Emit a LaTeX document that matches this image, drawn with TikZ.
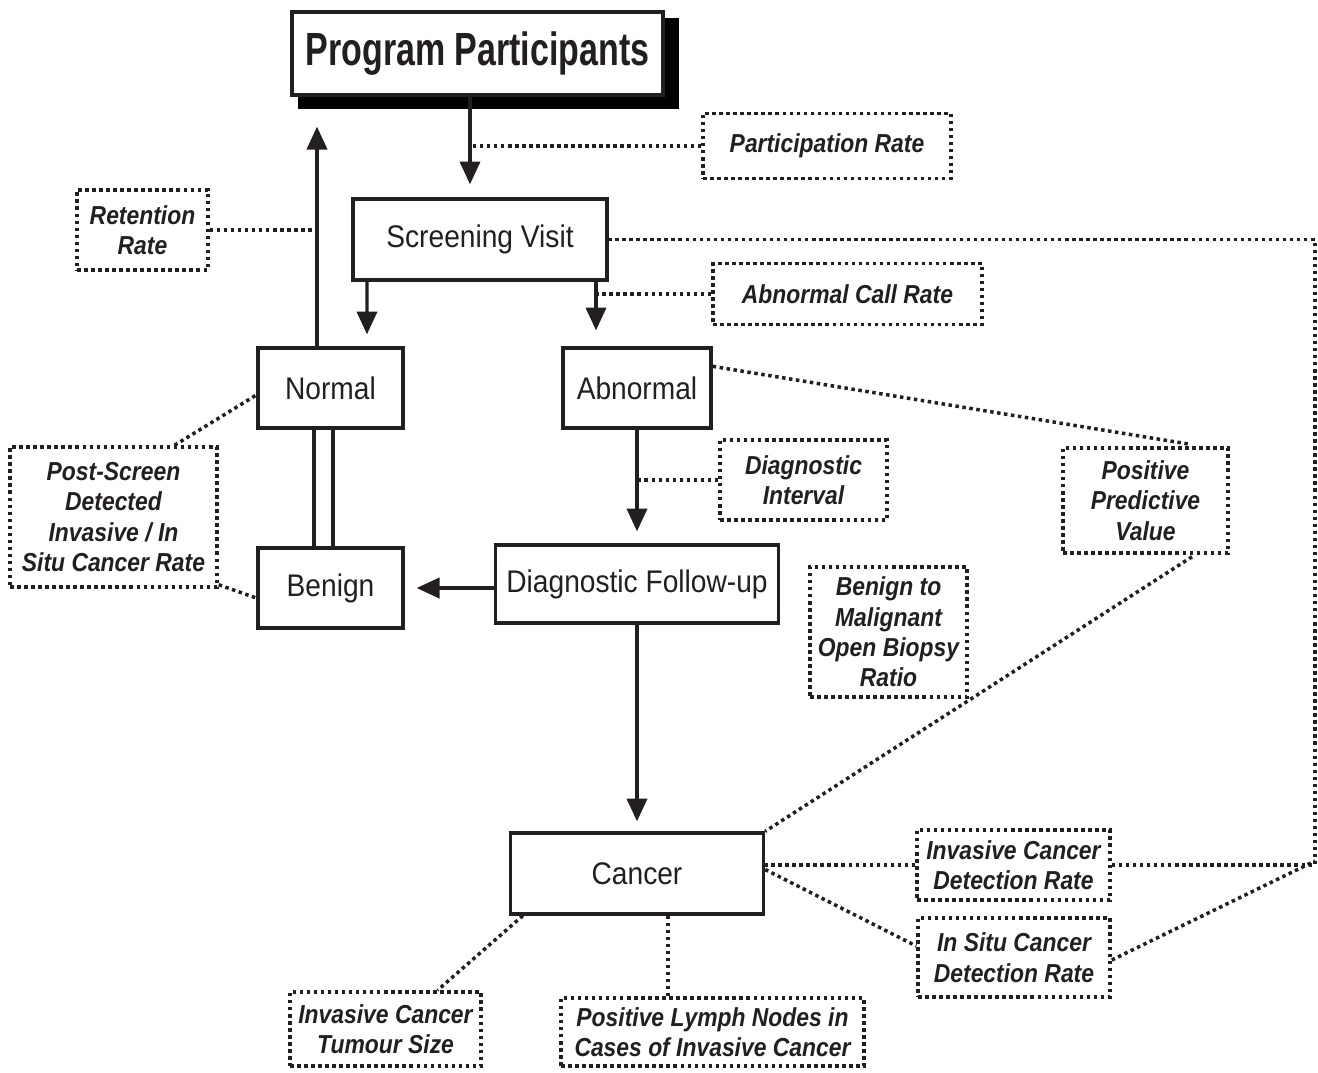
\documentclass[tikz,border=0pt]{standalone}
\usepackage{fontspec}
\setmainfont{Liberation Sans}
\newfontfamily\ttlfont[FakeStretch=0.73]{Liberation Sans}
\newfontfamily\labfont[FakeStretch=0.88]{Liberation Sans}
\newfontfamily\boxfont[FakeStretch=0.9]{Liberation Sans}
\usetikzlibrary{arrows.meta,calc,backgrounds}
\definecolor{ink}{RGB}{35,31,32}
\begin{document}
\begin{tikzpicture}[x=0.02cm,y=-0.02cm,color=ink,
  solidbox/.style={draw,line width=1.9pt,fill=white,inner sep=0pt,align=center,
    font=\boxfont\fontsize{17.8}{20}\selectfont},
  dotbox/.style={draw,line width=2pt,dash pattern=on 2pt off 2pt,inner sep=0pt,align=center,
    font=\labfont\bfseries\itshape\fontsize{14.8}{17.3}\selectfont},
  arr/.style={line width=1.9pt,-{Triangle[length=13pt,width=11.5pt]}},
  dotline/.style={line width=2pt,dash pattern=on 2pt off 2pt},
  plainline/.style={line width=1.9pt}]
\useasboundingbox (0,0) rectangle (1318,1072);

% main boxes
\node[solidbox,font=\ttlfont\bfseries\fontsize{26.5}{30}\selectfont,
  minimum width=7.42cm,minimum height=1.66cm] (PP) at (477.5,53.5) {Program Participants};
\node[solidbox,minimum width=5.08cm,minimum height=1.62cm] (SV) at (480,239.5) {Screening Visit};
\node[solidbox,minimum width=2.9cm,minimum height=1.6cm] (Normal) at (330.5,388) {Normal};
\node[solidbox,minimum width=2.96cm,minimum height=1.6cm] (Abnormal) at (637,388) {Abnormal};
\node[solidbox,minimum width=5.66cm,minimum height=1.56cm] (DF) at (637,584) {Diagnostic Follow-up};
\node[solidbox,minimum width=2.9cm,minimum height=1.6cm] (Benign) at (330.5,588) {Benign};
\node[solidbox,minimum width=5.06cm,minimum height=1.62cm] (Cancer) at (637,873.5) {Cancer};

\begin{scope}[on background layer]
  \fill ($(PP.north west)+(8,8)$) rectangle ($(PP.south east)+(14,12)$);
\end{scope}

% label boxes
\node[dotbox,minimum width=4.96cm,minimum height=1.3cm] (PartRate) at (827,146) {Participation Rate};
\node[dotbox,minimum width=2.62cm,minimum height=1.6cm] (RR) at (142.5,230) {Retention\\Rate};
\node[dotbox,minimum width=5.38cm,minimum height=1.22cm] (ACR) at (847.5,294) {Abnormal Call Rate};
\node[dotbox,minimum width=3.34cm,minimum height=1.6cm] (DI) at (803.5,480) {Diagnostic\\Interval};
\node[dotbox,minimum width=4.14cm,minimum height=2.8cm] (PS) at (113.5,517) {Post-Screen\\Detected\\Invasive / In\\Situ Cancer Rate};
\node[dotbox,minimum width=3.14cm,minimum height=2.6cm] (BM) at (888.5,632) {Benign to\\Malignant\\Open Biopsy\\Ratio};
\node[dotbox,minimum width=3.3cm,minimum height=2.1cm] (PPV) at (1145.5,500.5) {Positive\\Predictive\\Value};
\node[dotbox,minimum width=3.86cm,minimum height=1.4cm] (ICDR) at (1013.5,865) {Invasive Cancer\\Detection Rate};
\node[dotbox,minimum width=3.84cm,minimum height=1.58cm] (IS) at (1014,957.5) {In Situ Cancer\\Detection Rate};
\node[dotbox,minimum width=3.82cm,minimum height=1.48cm] (TS) at (385.5,1029) {Invasive Cancer\\Tumour Size};
\node[dotbox,minimum width=6.06cm,minimum height=1.36cm] (PLN) at (712.5,1032) {Positive Lymph Nodes in\\Cases of Invasive Cancer};

\coordinate (rt) at (1315,0);

% arrows
\draw[arr] ($(PP.south)+(-7.5,0)$) coordinate (a1) -- ($(SV.north)+(-10,-13)$);
\draw[arr] ($(Normal.north)+(-13.5,0)$) coordinate (a2) -- ($(PP.south)+(-160.5,30)$);
\draw[arr] ($(SV.south)+(-113,0)$) -- ($(Normal.north)+(36.5,-12)$);
\draw[arr] ($(SV.south)+(116,0)$) coordinate (a3) -- ($(Abnormal.north)+(-41,-16)$);
\draw[arr] (Abnormal.south) coordinate (a4) -- ($(DF.north)+(0,-12)$);
\draw[arr] (DF.west |- Benign.east) -- ($(Benign.east)+(12,0)$);
\draw[arr] (DF.south) coordinate (a5) -- ($(Cancer.north)+(0,-10)$);
\draw[plainline] ($(Normal.south)+(-16.5,0)$) -- ($(Benign.north)+(-16.5,0)$);
\draw[plainline] ($(Normal.south)+(2.5,0)$) -- ($(Benign.north)+(2.5,0)$);

% dotted connectors
\draw[dotline] (PartRate.west) -- (PartRate.west -| a1);
\draw[dotline] (RR.east) -- (RR.east -| a2);
\draw[dotline] (ACR.west) -- (ACR.west -| a3);
\draw[dotline] (DI.west) -- (DI.west -| a4);
\draw[dotline] ($(BM.west)+(0,26)$) -- ($(BM.west)+(0,26)$ -| a5);
\draw[dotline] ($(PS.north)+(61,0)$) -- ($(Normal.west)+(0,7)$);
\draw[dotline] ($(PS.south east)+(0,-4)$) -- ($(Benign.west)+(0,10)$);
\draw[dotline] ($(Abnormal.north east)+(0,20)$) -- ($(PPV.north)+(44.5,-2)$);
\draw[dotline] ($(PPV.south)+(46.5,2)$) -- (Cancer.north east);
\draw[dotline] (ICDR.west) -- (ICDR.west -| Cancer.east);
\draw[dotline] (ICDR.east) -- (ICDR.east -| rt) |- (SV.east);
\draw[dotline] ($(Cancer.east)+(0,-4)$) -- ($(IS.west)+(0,-11.5)$);
\draw[dotline] ($(IS.east)+(0,2.5)$) -- ($(ICDR.east -| rt)+(0,-4)$);
\draw[dotline] ($(Cancer.south west)+(14,0)$) -- ($(TS.north)+(52,0)$);
\draw[dotline] ($(Cancer.south)+(31,0)$) -- ($(PLN.north)+(-44.5,0)$);
\end{tikzpicture}
\end{document}
